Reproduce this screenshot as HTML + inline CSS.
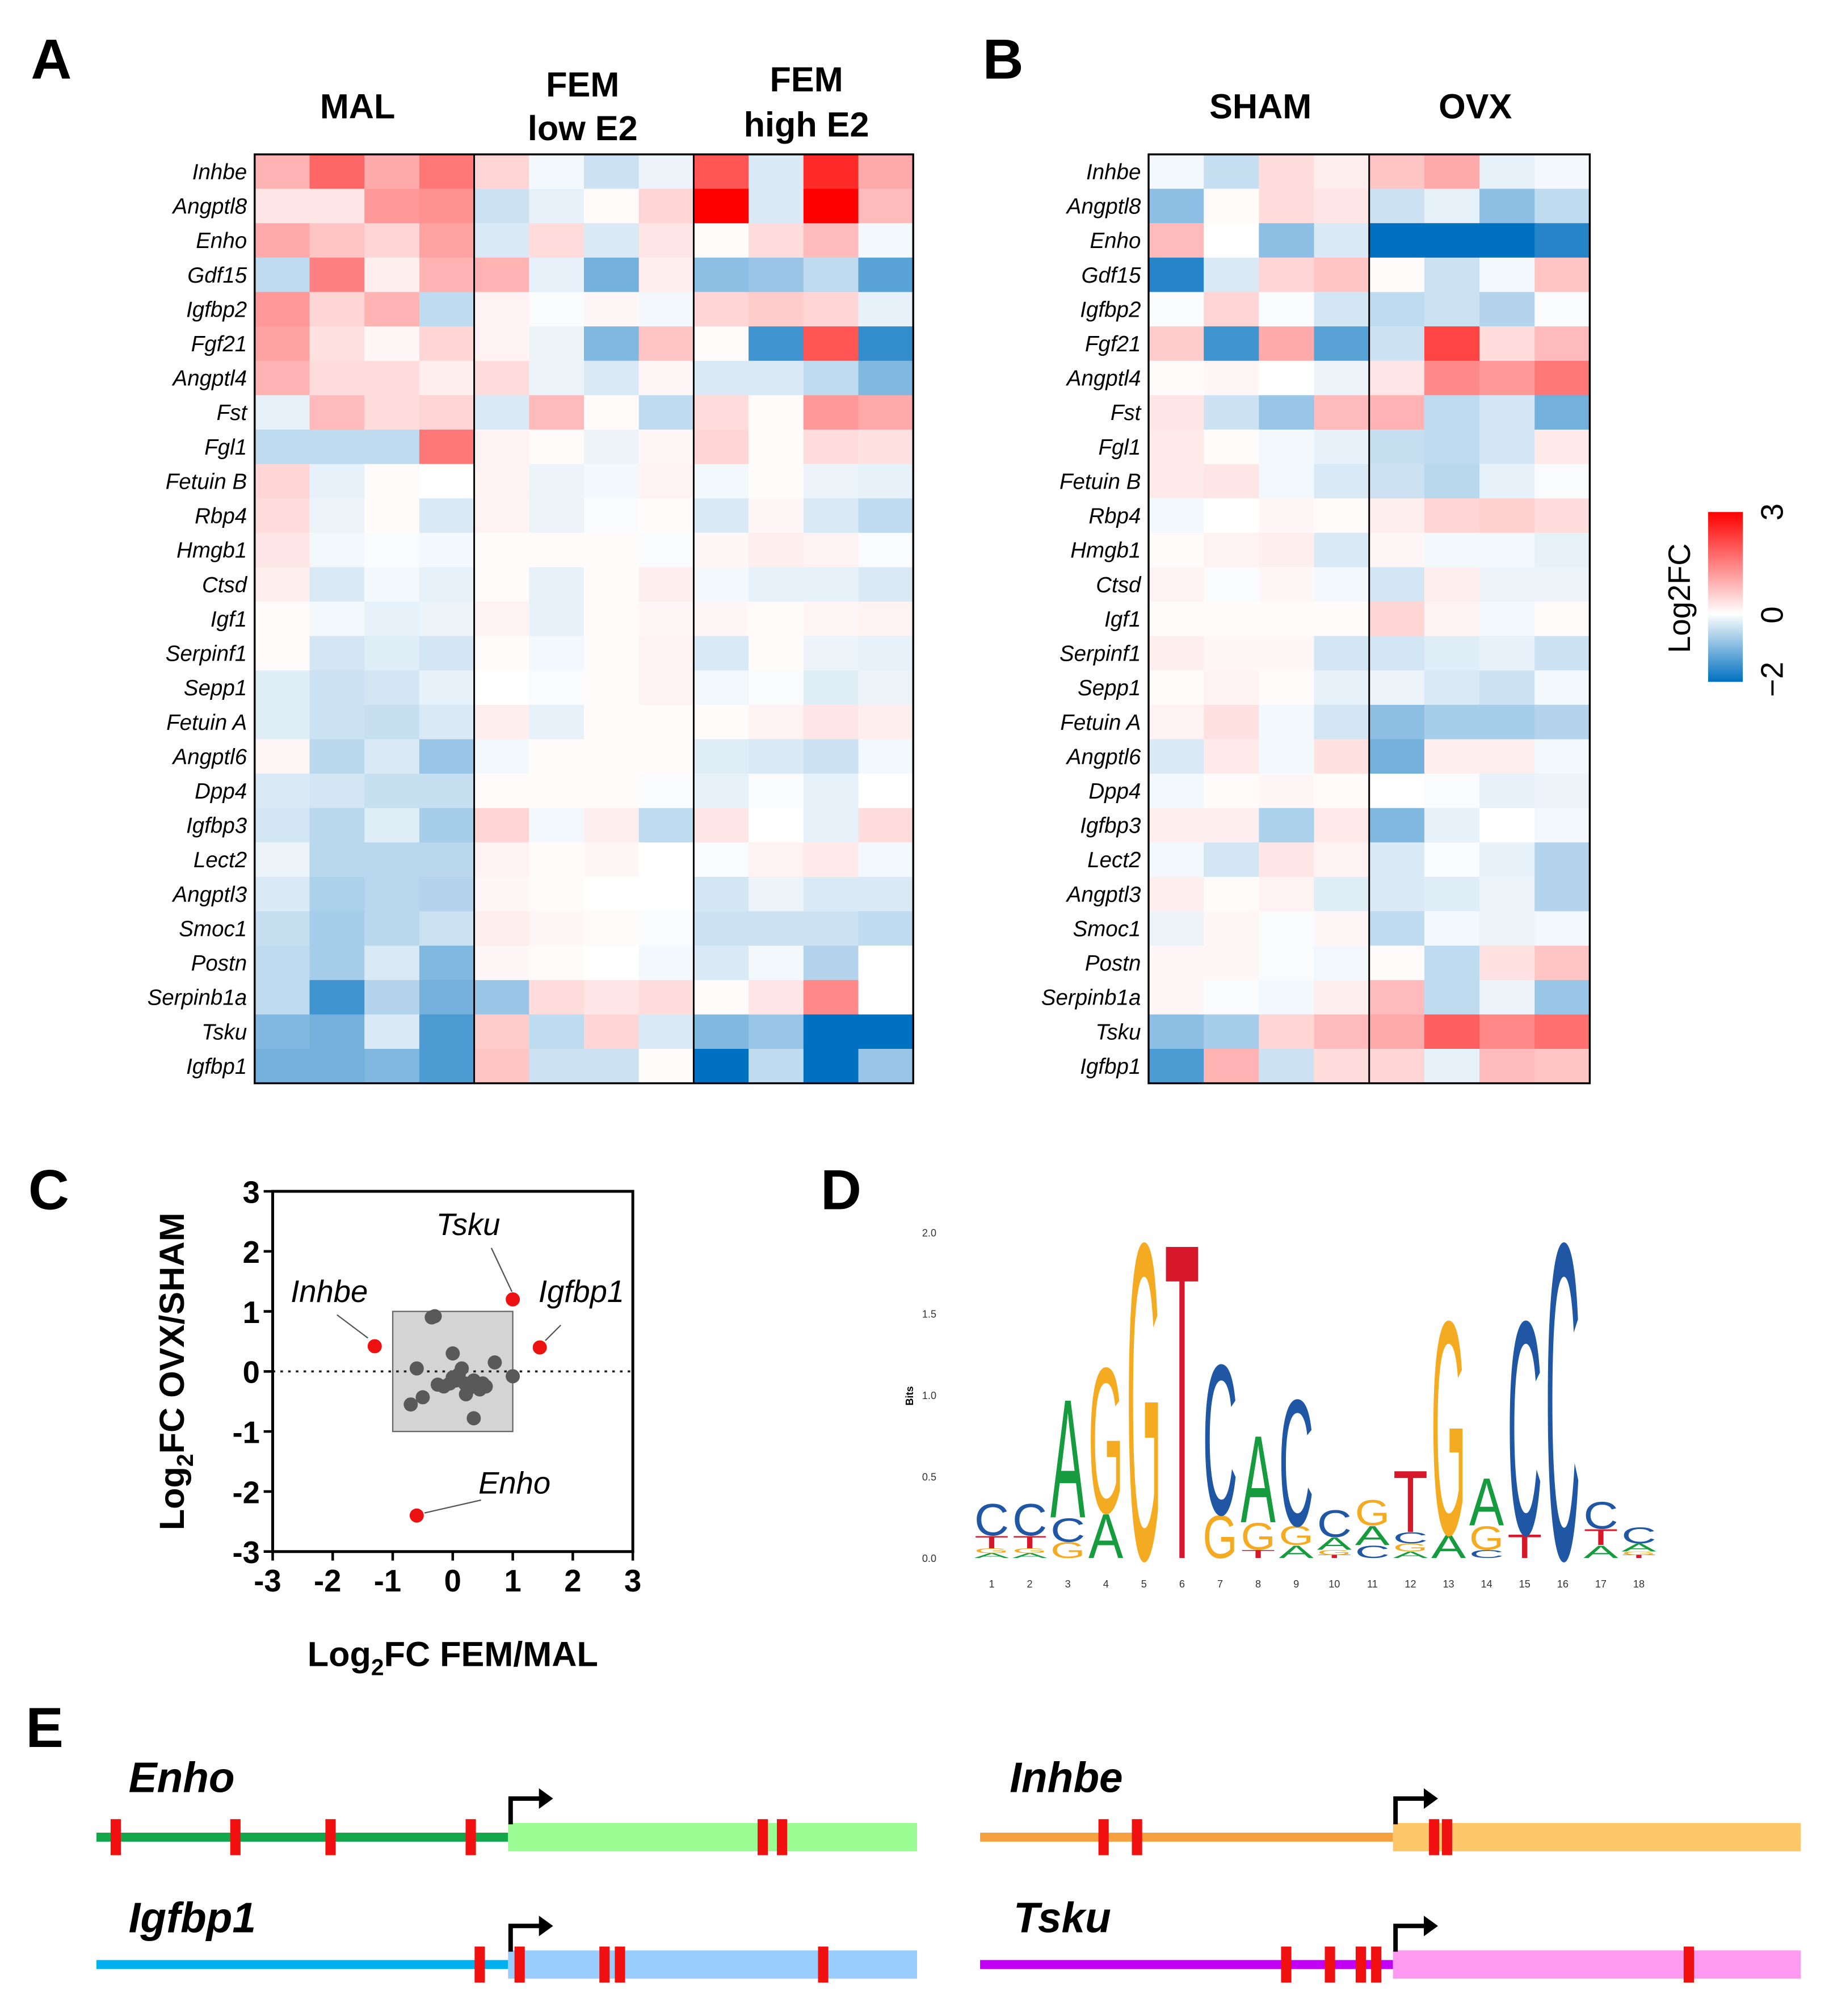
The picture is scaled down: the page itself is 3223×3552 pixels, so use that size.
<!DOCTYPE html>
<html><head><meta charset="utf-8">
<style>
html,body{margin:0;padding:0;background:#fff;}
svg{display:block;}
text{font-family:"Liberation Sans",Arial,sans-serif;}
</style></head>
<body>
<svg id="fig" width="3223" height="3552" viewBox="0 0 1422 1567" preserveAspectRatio="none" xmlns="http://www.w3.org/2000/svg">
<defs>
<linearGradient id="cbar" x1="0" y1="1" x2="0" y2="0">
<stop offset="0" stop-color="#0070c0"/><stop offset="0.4" stop-color="#ffffff"/><stop offset="1" stop-color="#ff0000"/>
</linearGradient>
</defs>
<g id="panelA"></g>
<g id="panelB"></g>
<g id="panelC"></g>
<g id="panelD"></g>
<g id="panelE"></g>

<text x="24" y="61" font-size="44" font-weight="bold">A</text>
<text x="764" y="61" font-size="44" font-weight="bold">B</text>
<text x="22" y="940" font-size="44" font-weight="bold">C</text>
<text x="638" y="940" font-size="44" font-weight="bold">D</text>
<text x="20" y="1358" font-size="44" font-weight="bold">E</text>

<g font-size="27" font-weight="bold" text-anchor="middle">
<text x="278" y="92">MAL</text>
<text x="453" y="75">FEM</text>
<text x="453" y="109">low E2</text>
<text x="627" y="71">FEM</text>
<text x="627" y="106">high E2</text>
<text x="980" y="92">SHAM</text>
<text x="1147" y="92">OVX</text>
</g>

<g>
<rect x="1328" y="398" width="27" height="132" fill="url(#cbar)"/>
<text transform="translate(1314,465) rotate(-90)" font-size="24" text-anchor="middle">Log2FC</text>
<text transform="translate(1386,398) rotate(-90)" font-size="24" text-anchor="middle">3</text>
<text transform="translate(1386,478) rotate(-90)" font-size="24" text-anchor="middle">0</text>
<text transform="translate(1386,528) rotate(-90)" font-size="24" text-anchor="middle">−2</text>
</g>
</svg>
<script>
const NS="http://www.w3.org/2000/svg";
function mk(parent,tag,attrs,txt){const e=document.createElementNS(NS,tag);for(const k in attrs)e.setAttribute(k,attrs[k]);if(txt!==undefined)e.textContent=txt;parent.appendChild(e);return e;}

// ---------- Heatmap data ----------
const genes=["Inhbe","Angptl8","Enho","Gdf15","Igfbp2","Fgf21","Angptl4","Fst","Fgl1","Fetuin B","Rbp4","Hmgb1","Ctsd","Igf1","Serpinf1","Sepp1","Fetuin A","Angptl6","Dpp4","Igfbp3","Lect2","Angptl3","Smoc1","Postn","Serpinb1a","Tsku","Igfbp1"];
const valuesA=[
[.9,1.8,1.0,1.6,.5,-.1,-.4,-.15,2.0,-.3,2.5,1.0],
[.3,.3,1.2,1.3,-.4,-.2,.05,.5,3,-.3,3,.8],
[1.0,.7,.5,1.1,-.3,.4,-.3,.3,.05,.4,.8,-.1],
[-.5,1.5,.2,.9,.9,-.2,-1.1,.2,-.9,-.8,-.5,-1.3],
[1.2,.5,.9,-.5,.15,-.05,.1,-.1,.5,.6,.5,-.2],
[1.1,.35,.1,.5,.15,-.15,-1.0,.7,.05,-1.5,2.0,-1.6],
[.9,.4,.4,.2,.4,-.15,-.3,.1,-.3,-.3,-.5,-1.0],
[-.2,.8,.4,.5,-.3,.8,.05,-.5,.4,.05,1.2,1.0],
[-.5,-.5,-.5,1.6,.15,.05,-.15,.1,.5,.05,.4,.35],
[.5,-.2,.05,0,.15,-.15,-.1,.15,-.1,.05,-.15,-.2],
[.4,-.15,.05,-.3,.15,-.15,-.05,.05,-.3,.1,-.3,-.5],
[.3,-.1,-.05,-.1,.05,.05,.05,-.05,.1,.2,.15,-.05],
[.2,-.3,-.1,-.2,.05,-.2,.05,.2,-.1,-.2,-.2,-.3],
[.05,-.1,-.2,-.15,.15,-.2,.05,.1,.1,.05,.1,.15],
[.05,-.35,-.25,-.35,.05,-.1,.05,.15,-.3,.05,-.15,-.2],
[-.25,-.4,-.35,-.2,0,-.05,.05,.15,-.1,-.05,-.25,-.15],
[-.25,-.4,-.45,-.3,.2,-.2,.05,.05,.05,.15,.3,.2],
[.1,-.55,-.3,-.8,-.1,.05,.05,.05,-.25,-.3,-.4,-.1],
[-.3,-.35,-.45,-.45,.05,.05,.05,-.05,-.2,-.05,-.2,0],
[-.35,-.55,-.25,-.7,.5,-.1,.2,-.5,.3,0,-.2,.4],
[-.15,-.55,-.55,-.55,.15,.05,.1,0,-.05,.15,.25,-.1],
[-.3,-.65,-.55,-.6,.1,.05,0,0,-.35,-.15,-.3,-.3],
[-.45,-.7,-.55,-.4,.2,.1,.05,-.05,-.4,-.4,-.4,-.5],
[-.5,-.7,-.3,-1.0,.1,.05,0,-.1,-.3,-.1,-.6,0],
[-.5,-1.5,-.6,-1.1,-.8,.4,.3,.4,.05,.3,1.4,0],
[-1.0,-1.1,-.3,-1.4,.6,-.5,.5,-.3,-1.0,-.8,-2,-2],
[-1.1,-1.1,-1.0,-1.4,.7,-.4,-.4,.05,-2,-.5,-2,-.8]];
const valuesB=[
[-.1,-.45,.4,.2,.7,1.0,-.2,-.1],
[-.9,.05,.4,.3,-.4,-.2,-.9,-.5],
[.8,0,-.9,-.3,-2,-2,-2,-1.7],
[-1.7,-.3,.5,.7,.05,-.4,-.1,.7],
[-.05,.5,-.05,-.35,-.5,-.4,-.6,-.05],
[.6,-1.5,1.0,-1.3,-.4,2.2,.4,.8],
[.05,.1,0,-.15,.3,1.4,1.2,1.6],
[.3,-.4,-.8,.8,.9,-.5,-.35,-1.1],
[.25,.05,-.1,-.2,-.45,-.5,-.35,.25],
[.25,.3,-.1,-.3,-.4,-.55,-.2,-.05],
[-.1,0,.1,.05,.2,.5,.55,.4],
[.05,.15,.2,-.3,.1,-.1,-.1,-.2],
[.15,-.05,.1,-.1,-.35,.2,-.15,-.15],
[.05,.05,.05,.05,.5,.15,-.1,.05],
[.2,.1,.1,-.35,-.35,-.25,-.2,-.4],
[.05,.15,.05,-.2,-.15,-.3,-.4,-.1],
[.15,.35,-.1,-.35,-.9,-.7,-.7,-.6],
[-.3,.25,-.1,.35,-1.1,.2,.2,-.1],
[-.1,.05,.1,.05,0,-.05,-.2,-.15],
[.2,.2,-.65,.25,-1.0,-.2,0,-.1],
[-.1,-.35,.3,.15,-.3,-.05,-.2,-.6],
[.2,.05,.15,-.25,-.3,-.25,-.15,-.6],
[-.15,.1,-.05,.1,-.5,-.1,-.15,-.1],
[.1,.1,-.05,-.1,.05,-.5,.35,.7],
[.1,-.05,-.1,.2,.8,-.5,-.15,-.8],
[-.9,-.7,.5,.8,1.0,1.9,1.4,1.7],
[-1.4,.9,-.4,.4,.5,-.2,.8,.7]];

function colorOf(v){
  if(v>=0){const t=Math.min(v/3,1);return `rgb(255,${Math.round(255*(1-t))},${Math.round(255*(1-t))})`;}
  const t=Math.min(-v/2,1);return `rgb(${Math.round(255*(1-t))},${Math.round(255-(255-112)*t)},${Math.round(255-(255-192)*t)})`;
}
function heatmap(g,vals,x0,x1,y0,y1,groups,prefix){
  const nc=vals[0].length,nr=vals.length,cw=(x1-x0)/nc,rh=(y1-y0)/nr;
  vals.forEach((row,r)=>{
    row.forEach((v,c)=>{
      const e=mk(g,"rect",{x:x0+c*cw,y:y0+r*rh,width:cw+0.6,height:rh+0.6,fill:colorOf(v)});
      
      
    });
    const t=mk(g,"text",{x:x0-6,y:y0+(r+0.5)*rh+6,"font-size":17,"font-style":"italic","text-anchor":"end"},genes[r]);
    
    
  });
  for(let k=1;k<groups;k++){
    const x=x0+k*(x1-x0)/groups;
    const l=mk(g,"line",{x1:x,x2:x,y1:y0,y2:y1,stroke:"#000","stroke-width":1.3});
    
    
  }
  const b=mk(g,"rect",{x:x0,y:y0,width:x1-x0,height:y1-y0,fill:"none",stroke:"#000","stroke-width":1.5});
  
  
}
heatmap(document.getElementById("panelA"),valuesA,198,710,120,842,3,"heatmap-a");
heatmap(document.getElementById("panelB"),valuesB,893,1236,120,842,2,"heatmap-b");

// ---------- Scatter C ----------
const grayX=[-.35,-.3,-.6,0,.15,.7,1.0,-.7,-.5,-.25,-.15,-.05,.05,0,.2,.25,.22,.35,.4,.5,.55,.45,.35,.1];
const grayY=[.9,.92,.05,.3,.05,.15,-.08,-.55,-.43,-.22,-.25,-.2,-.15,-.1,-.2,-.3,-.38,-.15,-.25,-.2,-.25,-.3,-.78,-.05];
const redNames=["Tsku","Inhbe","Igfbp1","Enho"];
const redX=[1.0,-1.3,1.45,-0.6];
const redY=[1.2,0.42,0.4,-2.4];
const ticksC=[-3,-2,-1,0,1,2,3];
(function(){
  const g=document.getElementById("panelC");
  const L=212,R=492,T=926,B=1206;
  const sx=v=>L+(v+3)/6*(R-L), sy=v=>B-(v+3)/6*(B-T);
  const box=mk(g,"rect",{x:sx(-1),y:sy(1),width:sx(1)-sx(-1),height:sy(-1)-sy(1),fill:"#d4d4d4",stroke:"#666","stroke-width":1});
  
  
  const zl=mk(g,"line",{x1:L,x2:R,y1:sy(0),y2:sy(0),stroke:"#222","stroke-width":1.6,"stroke-dasharray":"2,4"});
  
  
  grayX.forEach((x,i)=>{
    const c=mk(g,"circle",{cx:sx(x),cy:sy(grayY[i]),r:5.5,fill:"#595959"});
    
    
  });
  const labelPos=[[364,960,382,970,398,1004],[256,1012,262,1022,286,1040],[452,1012,436,1030,424,1042],[400,1161,374,1166,330,1176]];
  redX.forEach((x,i)=>{
    const c=mk(g,"circle",{cx:sx(x),cy:sy(redY[i]),r:5.5,fill:"#ee1111"});
    
    
    const p=labelPos[i];
    const t=mk(g,"text",{x:p[0],y:p[1],"font-size":24,"font-style":"italic","text-anchor":"middle"},redNames[i]);
    
    
    const l=mk(g,"line",{x1:p[2],y1:p[3],x2:p[4],y2:p[5],stroke:"#555","stroke-width":1});
    
    
  });
  const ax=mk(g,"path",{d:`M${L},${T}H${R}V${B}H${L}Z`,fill:"none",stroke:"#000","stroke-width":2.2});
  
  
  ticksC.forEach(v=>{
    const tx=mk(g,"line",{x1:sx(v),x2:sx(v),y1:B,y2:B+7,stroke:"#000","stroke-width":2});
    
    
    const lx=mk(g,"text",{x:sx(v)-(v<0?4:0),y:B+31,"font-size":24,"font-weight":"bold","text-anchor":"middle"},String(v));
    
    
    const ty=mk(g,"line",{x1:L-7,x2:L,y1:sy(v),y2:sy(v),stroke:"#000","stroke-width":2});
    
    
    const ly=mk(g,"text",{x:L-10,y:sy(v)+9,"font-size":24,"font-weight":"bold","text-anchor":"end"},String(v));
    
    
  });
  const xt=mk(g,"text",{x:352,y:1295,"font-size":27,"font-weight":"bold","text-anchor":"middle"});
  
  
  xt.innerHTML='Log<tspan font-size="18" dy="7">2</tspan><tspan dy="-7">FC FEM/MAL</tspan>';
  const yt=mk(g,"text",{transform:"translate(143,1066) rotate(-90)","font-size":27,"font-weight":"bold","text-anchor":"middle"});
  
  
  yt.innerHTML='Log<tspan font-size="18" dy="7">2</tspan><tspan dy="-7">FC OVX/SHAM</tspan>';
})();

// ---------- Sequence logo D ----------
const logoLetters=[
"AGTC","AGTC","GCA","AG","G","T","GC","TGA","AGC","TGAC","CAG","AGCT","AG","CGA","TC","C","ATC","TGAC"];
const logoHeights=[
[.03,.03,.08,.2],[.03,.03,.08,.2],[.1,.15,.75],[.28,.92],[2.0],[2.0],[.27,.95],[.05,.17,.55],[.08,.12,.8],[.02,.03,.08,.17],[.08,.12,.16],[.04,.05,.07,.39],[.15,1.35],[.05,.15,.3],[.15,1.35],[2.0],[.08,.1,.17],[.02,.02,.05,.1]];
const bitTicks=["0.0","0.5","1.0","1.5","2.0"];
(function(){
  const g=document.getElementById("panelD");
  const y0=1211,pxPerBit=126.5,cx0=771,step=29.6,w=27;
  const col={A:"#169b3e",C:"#1f57a4",G:"#f4ab22",T:"#d7182a"};
  bitTicks.forEach(t=>{
    const e=mk(g,"text",{x:728,y:y0-parseFloat(t)*pxPerBit+3,"font-size":8,"text-anchor":"end",fill:"#333"},t);
    
    
  });
  const bl=mk(g,"text",{transform:"translate(710,1085) rotate(-90)","font-size":8,"font-weight":"bold","text-anchor":"middle"},"Bits");
  
  
  logoLetters.forEach((s,i)=>{
    const cx=cx0+i*step;
    const n=mk(g,"text",{x:cx,y:1234,"font-size":8,"text-anchor":"middle",fill:"#333"},String(i+1));
    
    
    let base=y0;
    s.split("").forEach((ch,k)=>{
      const h=logoHeights[i][k]*pxPerBit;
      const t=mk(g,"text",{x:0,y:0,"font-size":100,textLength:100,lengthAdjust:"spacingAndGlyphs",fill:col[ch],
        transform:`translate(${cx-w/2},${base}) scale(${w/100},${h/72})`},ch);
      
      
      base-=h;
    });
  });
})();

// ---------- Gene diagrams E ----------
const geneNames=["Enho","Inhbe","Igfbp1","Tsku"];
const geneSiteLists=[[90,183,257,366,593,608],[858,884,1115,1125],[373,404,470,482,640],[1000,1034,1058,1070,1313]];
(function(){
  const g=document.getElementById("panelE");
  const cfg=[
    {lx:100,ly:1393,x0:75,tss:395,x1:713,y:1428,line:"#13a64a",box:"#9bfc94"},
    {lx:785,ly:1393,x0:762,tss:1083,x1:1400,y:1428,line:"#f7a040",box:"#fdc76a"},
    {lx:100,ly:1502,x0:75,tss:395,x1:713,y:1527,line:"#00b0ef",box:"#99ccff"},
    {lx:788,ly:1502,x0:762,tss:1083,x1:1400,y:1527,line:"#c200f5",box:"#ff99f2"}];
  cfg.forEach((c,i)=>{
    const t=mk(g,"text",{x:c.lx,y:c.ly,"font-size":33,"font-weight":"bold","font-style":"italic"},geneNames[i]);
    
    
    const ln=mk(g,"rect",{x:c.x0,y:c.y-3.5,width:c.tss-c.x0,height:7,fill:c.line});
    
    
    const bx=mk(g,"rect",{x:c.tss,y:c.y-11,width:c.x1-c.tss,height:22,fill:c.box});
    
    
    const ar=mk(g,"path",{d:`M${c.tss+2},${c.y-10}V${c.y-30}H${c.tss+26}`,fill:"none",stroke:"#000","stroke-width":3.5});
    
    
    const ah=mk(g,"path",{d:`M${c.tss+24},${c.y-38}L${c.tss+35},${c.y-30}L${c.tss+24},${c.y-22}Z`,fill:"#000"});
    
    
    geneSiteLists[i].forEach(x=>{
      const s=mk(g,"rect",{x:x-4,y:c.y-14,width:8,height:28,fill:"#f01010"});
      
      
    });
  });
})();
</script>
</body></html>
